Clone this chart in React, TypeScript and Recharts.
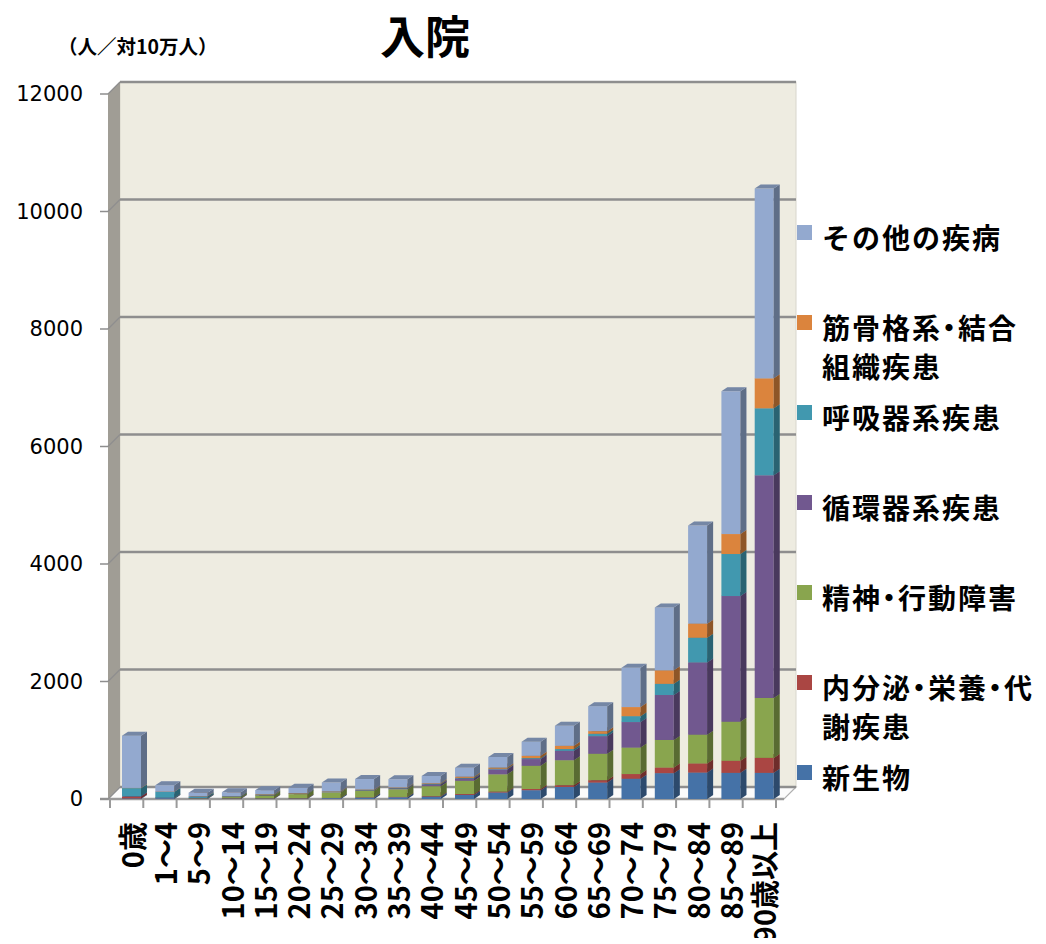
import React from 'react';
import { Bar, BarChart, CartesianGrid, XAxis, YAxis } from 'recharts';

const ages = ['0歳', '1～4', '5～9', '10～14', '15～19', '20～24', '25～29', '30～34', '35～39', '40～44', '45～49', '50～54', '55～59', '60～64', '65～69', '70～74', '75～79', '80～84', '85～89', '90歳以上'];

const neoplasm = [10, 15, 10, 10, 10, 10, 15, 25, 30, 40, 70, 110, 150, 205, 280, 345, 440, 450, 445, 445];
const endocrine = [30, 3, 2, 3, 2, 3, 3, 4, 5, 8, 15, 15, 20, 30, 40, 80, 95, 155, 205, 255];
const mental = [0, 2, 5, 20, 50, 70, 95, 110, 130, 170, 225, 295, 395, 425, 450, 450, 470, 490, 665, 1020];
const circulatory = [5, 2, 2, 2, 3, 4, 5, 8, 15, 30, 40, 85, 115, 160, 300, 435, 765, 1230, 2140, 3790];
const respiratory = [140, 100, 25, 10, 8, 6, 5, 5, 6, 7, 10, 10, 15, 30, 40, 100, 190, 420, 715, 1140];
const musculo = [3, 2, 3, 5, 8, 7, 7, 8, 10, 12, 20, 20, 40, 55, 45, 155, 230, 240, 340, 510];
const other = [890, 110, 60, 65, 70, 90, 150, 180, 140, 125, 150, 180, 240, 340, 425, 670, 1070, 1670, 2430, 3230];

const yTicks = [0, 2000, 4000, 6000, 8000, 10000, 12000];

// bottom to top
const series = [
  { key: 'neoplasm', name: '新生物', lines: ['新生物'], color: '#4572A7', values: neoplasm },
  { key: 'endocrine', name: '内分泌・栄養・代謝疾患', lines: ['内分泌・栄養・代', '謝疾患'], color: '#AA4643', values: endocrine },
  { key: 'mental', name: '精神・行動障害', lines: ['精神・行動障害'], color: '#89A54E', values: mental },
  { key: 'circulatory', name: '循環器系疾患', lines: ['循環器系疾患'], color: '#71588F', values: circulatory },
  { key: 'respiratory', name: '呼吸器系疾患', lines: ['呼吸器系疾患'], color: '#4198AF', values: respiratory },
  { key: 'musculo', name: '筋骨格系・結合組織疾患', lines: ['筋骨格系・結合', '組織疾患'], color: '#DB843D', values: musculo },
  { key: 'other', name: 'その他の疾病', lines: ['その他の疾病'], color: '#93A9CF', values: other },
];

const data = ages.map((age, i) => {
  const row: Record<string, any> = { age };
  series.forEach((s) => (row[s.key] = s.values[i]));
  return row;
});

const W = 1030;
const H = 930;
const M = { top: 86, right: 262, bottom: 0, left: 0 };
const Y_W = 102;
const X_H = 139;
const PLOT_L = M.left + Y_W;
const PLOT_R = W - M.right;
const PLOT_B = H - X_H;
const BAND = (PLOT_R - PLOT_L) / ages.length;
const DX = 12; // wall depth
const DY = 12;

const BoxShape = (props: any) => {
  const { x, y, width, height, fill } = props;
  if (!height || height <= 0) return null;
  const fx = x + 5;
  const d = 6;
  const e = 4;
  const side = `${fx + width},${y} ${fx + width + d},${y - e} ${fx + width + d},${y + height - e} ${fx + width},${y + height}`;
  const top = `${fx},${y} ${fx + d},${y - e} ${fx + width + d},${y - e} ${fx + width},${y}`;
  return (
    <g>
      <rect x={fx} y={y} width={width} height={height} fill={fill} />
      <polygon points={side} fill={fill} />
      <polygon points={side} fill="#000" fillOpacity={0.35} />
      <polygon points={top} fill={fill} />
      <polygon points={top} fill="#000" fillOpacity={0.2} />
    </g>
  );
};

const gridLine = (p: any) => {
  const { x1, x2, y1 } = p;
  return (
    <g key={p.key ?? `g-${y1}`}>
      <line x1={x1 - 10} y1={y1} x2={x1 - 2} y2={y1} stroke="#8e8e8e" strokeWidth={1.5} />
      <line x1={x1 - 2} y1={y1} x2={x1 + DX - 2} y2={y1 - DY} stroke="#8e8e8e" strokeWidth={1.2} />
      <line x1={x1 + DX - 2} y1={y1 - DY} x2={x2 + DX + 8} y2={y1 - DY} stroke="#8e8e8e" strokeWidth={2.5} />
    </g>
  );
};

const XTick = (props: any) => {
  const { x, y, payload, index } = props;
  const last = index === ages.length - 1;
  return (
    <g>
      <line x1={x - BAND / 2} x2={x - BAND / 2} y1={y + 1} y2={y + 9} stroke="#9a9a9a" strokeWidth={2} />
      {last && <line x1={x + BAND / 2} x2={x + BAND / 2} y1={y + 1} y2={y + 9} stroke="#9a9a9a" strokeWidth={2} />}
      <text
        transform={`translate(${x + 4},${y + 23}) rotate(-90)`}
        textAnchor="end"
        dominantBaseline="central"
        fontFamily='"Noto Sans CJK JP", sans-serif'
        fontWeight={700}
        fontSize={29}
        fill="#000"
      >
        {payload.value}
      </text>
    </g>
  );
};

const YTick = (props: any) => {
  const { x, y, payload } = props;
  return (
    <text x={x - 27} y={y} textAnchor="end" dominantBaseline="central" fontFamily='"DejaVu Sans", sans-serif' fontSize={21} fill="#000">
      {payload.value}
    </text>
  );
};

// half-width middle dot, as in the original legend
const Dot = ({ text }: { text: string }) => {
  const parts = text.split('・');
  return (
    <>
      {parts.map((p, i) => (
        <React.Fragment key={i}>
          {i > 0 && <span style={{ fontFeatureSettings: '"halt"' }}>・</span>}
          {p}
        </React.Fragment>
      ))}
    </>
  );
};

export default function App() {
  const legendItems = [...series].reverse();
  return (
    <div style={{ position: 'relative', width: W, height: H, fontFamily: '"Noto Sans CJK JP", sans-serif' }}>
      <svg width={W} height={H} style={{ position: 'absolute', left: 0, top: 0 }}>
        <rect x={PLOT_L + DX - 2} y={M.top - DY} width={PLOT_R + DX + 8 - (PLOT_L + DX - 2)} height={PLOT_B - M.top} fill="#EEECE1" stroke="#d8d6cc" />
        <polygon
          points={`${PLOT_L - 2},${M.top} ${PLOT_L + DX - 2},${M.top - DY} ${PLOT_L + DX - 2},${PLOT_B - DY} ${PLOT_L - 2},${PLOT_B}`}
          fill="#a09d95"
        />
        <polygon
          points={`${PLOT_L - 2},${PLOT_B} ${PLOT_L + DX - 2},${PLOT_B - DY} ${PLOT_R + DX + 8},${PLOT_B - DY} ${PLOT_R + 8},${PLOT_B}`}
          fill="#fbfbfb"
          stroke="#b0b0b0"
          strokeWidth={1.2}
        />
        <line x1={PLOT_L - 10} y1={PLOT_B} x2={PLOT_R + 8} y2={PLOT_B} stroke="#9a9a9a" strokeWidth={2.5} />
      </svg>
      <div style={{ position: 'absolute', left: 0, top: 0 }}>
        <BarChart width={W} height={H} data={data} margin={M} barSize={19}>
          <CartesianGrid vertical={false} horizontal={gridLine} />
          <XAxis dataKey="age" interval={0} height={X_H} tick={<XTick />} tickLine={false} axisLine={false} tickSize={0} tickMargin={0} />
          <YAxis domain={[0, 12000]} ticks={yTicks} width={Y_W} tick={<YTick />} tickLine={false} axisLine={false} tickSize={0} tickMargin={0} />
          {series.map((s) => (
            <Bar key={s.key} dataKey={s.key} name={s.name} stackId="a" fill={s.color} shape={<BoxShape />} isAnimationActive={false} />
          ))}
        </BarChart>
      </div>
      <div style={{ position: 'absolute', left: 317, top: 4, width: 200, textAlign: 'center', fontSize: 45, fontWeight: 700, lineHeight: '46px' }}>入院</div>
      <div style={{ position: 'absolute', left: 50, top: 27, fontSize: 19.5, fontWeight: 700, lineHeight: '22px', whiteSpace: 'nowrap' }}>（人／対10万人）</div>
      {legendItems.map((s, i) => (
        <div key={s.key} style={{ position: 'absolute', left: 789, top: 237 + 90 * i - 8 - 19.5 }}>
          <div style={{ position: 'absolute', left: 0, top: 7, width: 15, height: 15, background: s.color }} />
          <div style={{ marginLeft: 25, fontSize: 28, fontWeight: 700, lineHeight: '39px', letterSpacing: 2, whiteSpace: 'nowrap' }}>
            {s.lines.map((l) => (
              <div key={l}>
                <Dot text={l} />
              </div>
            ))}
          </div>
        </div>
      ))}
    </div>
  );
}
